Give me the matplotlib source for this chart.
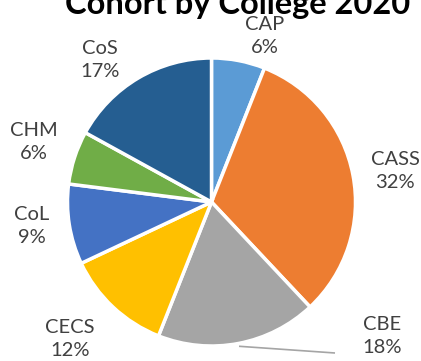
import numpy as np
import matplotlib.pyplot as plt

colleges = ["CAP", "CASS", "CBE", "CECS", "CoL", "CHM", "CoS"]
shares = [6, 32, 18, 12, 9, 6, 17]
colors = ["#5B9BD5", "#ED7D31", "#A5A5A5", "#FFC000",
          "#4472C4", "#70AD47", "#255E91"]

# label anchor points in pixel space (x right, y down)
label_pos = [(265, 36), (395, 171), (382, 336), (70, 339),
             (32, 226), (34, 142), (100, 60)]

W, H = 421, 361
plt.rcParams['font.family'] = ['Lato', 'DejaVu Sans']

fig = plt.figure(figsize=(W / 100, H / 100), dpi=100)
ax = fig.add_axes([0, 0, 1, 1])

cx, cy, r = 211.5, H - 202, 144
wedges, _ = ax.pie(shares, colors=colors, startangle=90, counterclock=False,
                   center=(cx, cy), radius=r,
                   wedgeprops=dict(edgecolor="white", linewidth=2.5))

for name, val, (lx, ly) in zip(colleges, shares, label_pos):
    ax.text(lx, H - ly, f"{name}\n{val}%", ha="center", va="center",
            fontsize=14.5, color="#404040", linespacing=1.45)

# leader line for the CBE label
w = wedges[2]
mid = np.deg2rad((w.theta1 + w.theta2) / 2)
x0 = cx + 1.02 * r * np.cos(mid)
y0 = cy + 1.02 * r * np.sin(mid)
ax.plot([x0, 335], [y0, H - 353], color="#A5A5A5", lw=1.2,
        solid_capstyle="butt")

ax.text(238, H - 14, "Cohort by College 2020", ha="center",
        va="baseline", fontsize=23.5, fontweight="bold", color="black")

ax.set_xlim(0, W)
ax.set_ylim(0, H)
ax.set_aspect("equal")
ax.axis("off")

fig.savefig("out.png", dpi=100)
